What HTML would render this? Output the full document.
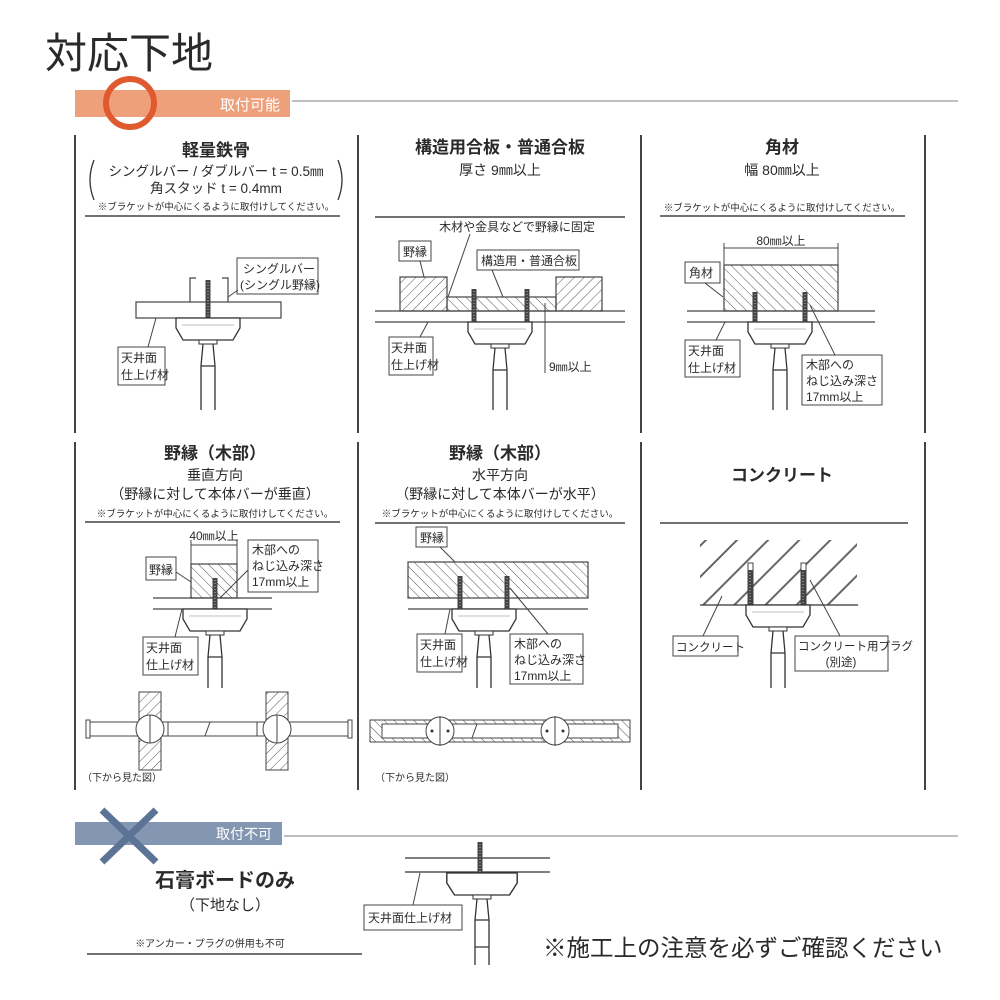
<!DOCTYPE html>
<html><head><meta charset="utf-8"><style>
html,body{margin:0;padding:0;background:#fff;}
svg{display:block;}
text{font-family:"Liberation Sans","Noto Sans CJK JP",sans-serif;fill:#2a2a2a;}
.b{font-weight:bold;}
</style></head><body>
<svg width="1000" height="1000" viewBox="0 0 1000 1000" xmlns="http://www.w3.org/2000/svg">
<defs>
<pattern id="hb" width="7" height="7" patternUnits="userSpaceOnUse" patternTransform="rotate(45)"><line x1="0" y1="0" x2="0" y2="7" stroke="#555" stroke-width="1"/></pattern>
<pattern id="hf" width="7" height="7" patternUnits="userSpaceOnUse" patternTransform="rotate(-45)"><line x1="0" y1="0" x2="0" y2="7" stroke="#555" stroke-width="1"/></pattern>
<pattern id="hc" width="22" height="22" patternUnits="userSpaceOnUse" patternTransform="rotate(45)"><line x1="0" y1="0" x2="0" y2="22" stroke="#555" stroke-width="4"/></pattern>
<g id="fx">
<path d="M-32,0 H32 V10 L25,22 H-25 L-32,10 Z" fill="#fff" stroke="#333" stroke-width="1.3"/>
<line x1="-26" y1="7" x2="26" y2="7" stroke="#aaa" stroke-width="0.8"/>
<rect x="-9" y="22" width="18" height="4" fill="#fff" stroke="#333"/>
</g>
<g id="sc"><path d="M-2.5,0 L2.5,0 L2.5,40 L0,44 L-2.5,40 Z" fill="#444"/><line x1="0" y1="2" x2="0" y2="40" stroke="#bbb" stroke-dasharray="1,2"/></g>
</defs>

<text x="45" y="68" font-size="42">対応下地</text>
<rect x="75" y="90" width="215" height="27" fill="#eea07a"/>
<circle cx="130" cy="103" r="24" fill="none" stroke="#e05a30" stroke-width="6"/>
<text x="280" y="110" font-size="15" text-anchor="end" style="fill:#fff">取付可能</text>
<line x1="292" y1="101" x2="958" y2="101" stroke="#999" stroke-width="1.2"/>

<g stroke="#444" stroke-width="2">
<line x1="75" y1="135" x2="75" y2="433"/><line x1="358" y1="135" x2="358" y2="433"/><line x1="641" y1="135" x2="641" y2="433"/><line x1="925" y1="135" x2="925" y2="433"/>
<line x1="75" y1="442" x2="75" y2="790"/><line x1="358" y1="442" x2="358" y2="790"/><line x1="641" y1="442" x2="641" y2="790"/><line x1="925" y1="442" x2="925" y2="790"/>
</g>
<g stroke="#444" stroke-width="1.5">
<line x1="85" y1="216" x2="340" y2="216"/><line x1="375" y1="217" x2="625" y2="217"/><line x1="660" y1="216" x2="905" y2="216"/>
<line x1="85" y1="522" x2="340" y2="522"/><line x1="375" y1="523" x2="625" y2="523"/><line x1="660" y1="523" x2="908" y2="523"/>
</g>

<text x="216" y="156" font-size="17" class="b" text-anchor="middle">軽量鉄骨</text>
<text x="216" y="176" font-size="13.5" text-anchor="middle">シングルバー / ダブルバー t = 0.5㎜</text>
<text x="216" y="193" font-size="13.5" text-anchor="middle">角スタッド t = 0.4mm</text>
<text x="216" y="210" font-size="9.5" text-anchor="middle">※ブラケットが中心にくるように取付けしてください。</text>
<path d="M94,160 Q86,180 94,200 M338,160 Q346,180 338,200" fill="none" stroke="#333" stroke-width="1.3"/>
<text x="500" y="153" font-size="17" class="b" text-anchor="middle">構造用合板・普通合板</text>
<text x="500" y="175" font-size="14" text-anchor="middle">厚さ 9㎜以上</text>
<text x="782" y="153" font-size="17" class="b" text-anchor="middle">角材</text>
<text x="782" y="175" font-size="14" text-anchor="middle">幅 80㎜以上</text>
<text x="782" y="211" font-size="9.5" text-anchor="middle">※ブラケットが中心にくるように取付けしてください。</text>
<text x="215" y="459" font-size="17" class="b" text-anchor="middle">野縁（木部）</text>
<text x="215" y="480" font-size="14" text-anchor="middle">垂直方向</text>
<text x="215" y="499" font-size="14" text-anchor="middle">（野縁に対して本体バーが垂直）</text>
<text x="215" y="517" font-size="9.5" text-anchor="middle">※ブラケットが中心にくるように取付けしてください。</text>
<text x="500" y="459" font-size="17" class="b" text-anchor="middle">野縁（木部）</text>
<text x="500" y="480" font-size="14" text-anchor="middle">水平方向</text>
<text x="500" y="499" font-size="14" text-anchor="middle">（野縁に対して本体バーが水平）</text>
<text x="500" y="517" font-size="9.5" text-anchor="middle">※ブラケットが中心にくるように取付けしてください。</text>
<text x="782" y="481" font-size="17" class="b" text-anchor="middle">コンクリート</text>

<path fill="none" stroke="#333" stroke-width="1.3" d="
M203,344 L201,366 V410 M213,344 L215,366 V410 M201,366 H215
M495,348 L493,370 V410 M505,348 L507,370 V410 M493,370 H507
M775,348 L773,370 V410 M785,348 L787,370 V410 M773,370 H787
M210,635 L208,657 V688 M220,635 L222,657 V688 M208,657 H222
M479,635 L477,657 V688 M489,635 L491,657 V688 M477,657 H491
M773,631 L771,653 V688 M783,631 L785,653 V688 M771,653 H785"/>

<g fill="#fff" stroke="#444" stroke-width="1.2">
<path d="M196,278 H190 V302 M222,278 H228 V302" fill="none"/>
<rect x="136" y="302" width="145" height="16"/>
</g>
<use href="#sc" x="208" y="280"/>
<use href="#fx" x="208" y="318"/>
<g fill="#fff" stroke="#444" stroke-width="1">
<rect x="237" y="258" width="81" height="36"/><line x1="228" y1="297" x2="238" y2="290"/>
<rect x="118" y="347" width="47" height="38"/><line x1="148" y1="347" x2="156" y2="318"/>
</g>
<text x="243" y="273" font-size="12">シングルバー</text><text x="240" y="289" font-size="12">(シングル野縁)</text>
<text x="121" y="362" font-size="12">天井面</text><text x="121" y="379" font-size="12">仕上げ材</text>

<text x="517" y="231" font-size="12" text-anchor="middle">木材や金具などで野縁に固定</text>
<g stroke="#444" stroke-width="1.2">
<rect x="400" y="277" width="47" height="34" fill="url(#hb)"/>
<rect x="556" y="277" width="46" height="34" fill="url(#hb)"/>
<rect x="447" y="297" width="109" height="14" fill="url(#hf)"/>
<line x1="375" y1="311" x2="625" y2="311"/><line x1="375" y1="322" x2="625" y2="322"/>
</g>
<use href="#sc" x="474" y="289"/><use href="#sc" x="527" y="289"/>
<use href="#fx" x="500" y="322"/>
<g fill="#fff" stroke="#444" stroke-width="1">
<rect x="399" y="241" width="32" height="20"/><line x1="420" y1="261" x2="424" y2="277"/>
<rect x="477" y="250" width="102" height="20"/><line x1="492" y1="270" x2="503" y2="297"/>
<line x1="470" y1="234" x2="448" y2="297"/>
<rect x="389" y="337" width="44" height="38"/><line x1="420" y1="337" x2="428" y2="322"/>
<line x1="545" y1="303" x2="545" y2="373"/>
</g>
<text x="403" y="256" font-size="12">野縁</text><text x="481" y="265" font-size="12">構造用・普通合板</text>
<text x="391" y="352" font-size="12">天井面</text><text x="391" y="369" font-size="12">仕上げ材</text>
<text x="549" y="371" font-size="12">9㎜以上</text>

<g stroke="#444" stroke-width="1">
<line x1="724" y1="243" x2="724" y2="265"/><line x1="838" y1="243" x2="838" y2="265"/><line x1="724" y1="248" x2="838" y2="248"/>
<rect x="724" y="265" width="114" height="46" fill="url(#hf)" stroke-width="1.2"/>
<line x1="687" y1="311" x2="875" y2="311" stroke-width="1.2"/><line x1="687" y1="322" x2="875" y2="322" stroke-width="1.2"/>
</g>
<text x="781" y="245" font-size="12" text-anchor="middle">80㎜以上</text>
<use href="#sc" x="755" y="292"/><use href="#sc" x="805" y="292"/>
<use href="#fx" x="780" y="322"/>
<g fill="#fff" stroke="#444" stroke-width="1">
<rect x="685" y="262" width="35" height="21"/><line x1="705" y1="283" x2="723" y2="297"/>
<rect x="685" y="340" width="55" height="37"/><line x1="716" y1="340" x2="725" y2="322"/>
<rect x="802" y="355" width="80" height="50"/><line x1="810" y1="305" x2="835" y2="355"/>
</g>
<text x="689" y="277" font-size="12">角材</text>
<text x="688" y="355" font-size="12">天井面</text><text x="688" y="372" font-size="12">仕上げ材</text>
<text x="806" y="369" font-size="12">木部への</text><text x="806" y="385" font-size="12">ねじ込み深さ</text><text x="806" y="401" font-size="12">17mm以上</text>

<g stroke="#444" stroke-width="1">
<line x1="191" y1="540" x2="191" y2="564"/><line x1="237" y1="540" x2="237" y2="564"/><line x1="191" y1="545" x2="237" y2="545"/>
<rect x="191" y="564" width="46" height="34" fill="url(#hf)" stroke-width="1.2"/>
<line x1="153" y1="598" x2="272" y2="598" stroke-width="1.2"/><line x1="153" y1="609" x2="272" y2="609" stroke-width="1.2"/>
</g>
<text x="214" y="540" font-size="12" text-anchor="middle">40㎜以上</text>
<use href="#sc" x="215" y="578"/>
<use href="#fx" x="215" y="609"/>
<g fill="#fff" stroke="#444" stroke-width="1">
<rect x="146" y="557" width="30" height="23"/><line x1="176" y1="572" x2="191" y2="582"/>
<rect x="248" y="540" width="70" height="52"/><line x1="248" y1="570" x2="220" y2="598"/>
<rect x="143" y="637" width="55" height="38"/><line x1="175" y1="637" x2="182" y2="609"/>
</g>
<text x="149" y="574" font-size="12">野縁</text>
<text x="252" y="554" font-size="12">木部への</text><text x="252" y="570" font-size="12">ねじ込み深さ</text><text x="252" y="586" font-size="12">17mm以上</text>
<text x="146" y="652" font-size="12">天井面</text><text x="146" y="669" font-size="12">仕上げ材</text>

<g stroke="#444" stroke-width="1.2">
<rect x="408" y="562" width="180" height="36" fill="url(#hf)"/>
<line x1="408" y1="609" x2="588" y2="609"/>
</g>
<use href="#sc" x="460" y="576"/><use href="#sc" x="507" y="576"/>
<use href="#fx" x="484" y="609"/>
<g fill="#fff" stroke="#444" stroke-width="1">
<rect x="416" y="527" width="31" height="20"/><line x1="440" y1="547" x2="455" y2="562"/>
<rect x="417" y="634" width="45" height="38"/><line x1="445" y1="634" x2="450" y2="609"/>
<rect x="510" y="634" width="73" height="50"/><line x1="548" y1="634" x2="510" y2="588"/>
</g>
<text x="420" y="542" font-size="12">野縁</text>
<text x="420" y="649" font-size="12">天井面</text><text x="420" y="666" font-size="12">仕上げ材</text>
<text x="514" y="648" font-size="12">木部への</text><text x="514" y="664" font-size="12">ねじ込み深さ</text><text x="514" y="680" font-size="12">17mm以上</text>

<rect x="700" y="540" width="157" height="65" fill="url(#hc)" opacity="0.9"/>
<line x1="700" y1="605" x2="858" y2="605" stroke="#333" stroke-width="1.2"/>
<rect x="748" y="563" width="5" height="44" fill="#fff" stroke="#444"/><rect x="801" y="563" width="5" height="44" fill="#fff" stroke="#444"/>
<use href="#sc" x="750" y="570"/><use href="#sc" x="803" y="570"/>
<use href="#fx" x="778" y="605"/>
<g fill="#fff" stroke="#444" stroke-width="1">
<rect x="673" y="636" width="65" height="20"/><line x1="703" y1="636" x2="722" y2="596"/>
<rect x="795" y="636" width="93" height="35"/><line x1="840" y1="636" x2="810" y2="580"/>
</g>
<text x="676" y="651" font-size="11.5">コンクリート</text>
<text x="798" y="650" font-size="11.5">コンクリート用プラグ</text><text x="841" y="666" font-size="11.5" text-anchor="middle">(別途)</text>

<g stroke="#444" stroke-width="1">
<rect x="139" y="692" width="22" height="78" fill="url(#hb)"/>
<rect x="266" y="692" width="22" height="78" fill="url(#hb)"/>
<rect x="90" y="722" width="260" height="14" fill="#fff"/>
<circle cx="150" cy="729" r="14" fill="#fff"/><circle cx="277" cy="729" r="14" fill="#fff"/>
<line x1="150" y1="715" x2="150" y2="743"/><line x1="277" y1="715" x2="277" y2="743"/>
<rect x="86" y="720" width="4" height="18" fill="#fff"/><rect x="348" y="720" width="4" height="18" fill="#fff"/>
<line x1="168" y1="722" x2="168" y2="736"/><line x1="257" y1="722" x2="257" y2="736"/>
<line x1="205" y1="736" x2="210" y2="722"/>
<rect x="370" y="720" width="260" height="22" fill="url(#hf)"/>
<rect x="382" y="724" width="236" height="14" fill="#fff"/>
<circle cx="440" cy="731" r="14" fill="#fff"/><circle cx="555" cy="731" r="14" fill="#fff"/>
<line x1="440" y1="716" x2="440" y2="746"/><line x1="555" y1="716" x2="555" y2="746"/>
<line x1="472" y1="738" x2="477" y2="724"/>
</g>
<g fill="#333"><circle cx="432" cy="731" r="1.5"/><circle cx="448" cy="731" r="1.5"/><circle cx="547" cy="731" r="1.5"/><circle cx="563" cy="731" r="1.5"/></g>
<text x="82" y="781" font-size="10">（下から見た図）</text>
<text x="375" y="781" font-size="10">（下から見た図）</text>

<rect x="75" y="822" width="207" height="23" fill="#8497b2"/>
<path d="M102,810 L156,862 M156,810 L102,862" stroke="#5b7394" stroke-width="7"/>
<text x="272" y="839" font-size="14" text-anchor="end" style="fill:#fff">取付不可</text>
<line x1="284" y1="836" x2="958" y2="836" stroke="#999" stroke-width="1.2"/>
<text x="225" y="887" font-size="20" class="b" text-anchor="middle">石膏ボードのみ</text>
<text x="225" y="910" font-size="15" text-anchor="middle">（下地なし）</text>
<text x="210" y="947" font-size="10" text-anchor="middle">※アンカー・プラグの併用も不可</text>
<line x1="87" y1="954" x2="362" y2="954" stroke="#444" stroke-width="1.5"/>
<g stroke="#333" stroke-width="1.3"><line x1="405" y1="858" x2="550" y2="858"/><line x1="405" y1="872" x2="550" y2="872"/></g>
<use href="#sc" x="480" y="842"/>
<g transform="translate(482,873) scale(1.1,1)"><path d="M-32,0 H32 V10 L25,22 H-25 L-32,10 Z" fill="#fff" stroke="#333" stroke-width="1.3"/></g>
<rect x="473" y="895" width="18" height="4" fill="#fff" stroke="#333"/>
<path d="M477,899 L475,920 V965 M487,899 L489,920 V965 M475,920 H489 M475,947 H489" fill="none" stroke="#333" stroke-width="1.3"/>
<rect x="364" y="905" width="98" height="25" fill="#fff" stroke="#444"/><line x1="413" y1="905" x2="420" y2="873" stroke="#444"/>
<text x="368" y="922" font-size="12">天井面仕上げ材</text>
<text x="543" y="956" font-size="23.5">※施工上の注意を必ずご確認ください</text>
</svg>
</body></html>
